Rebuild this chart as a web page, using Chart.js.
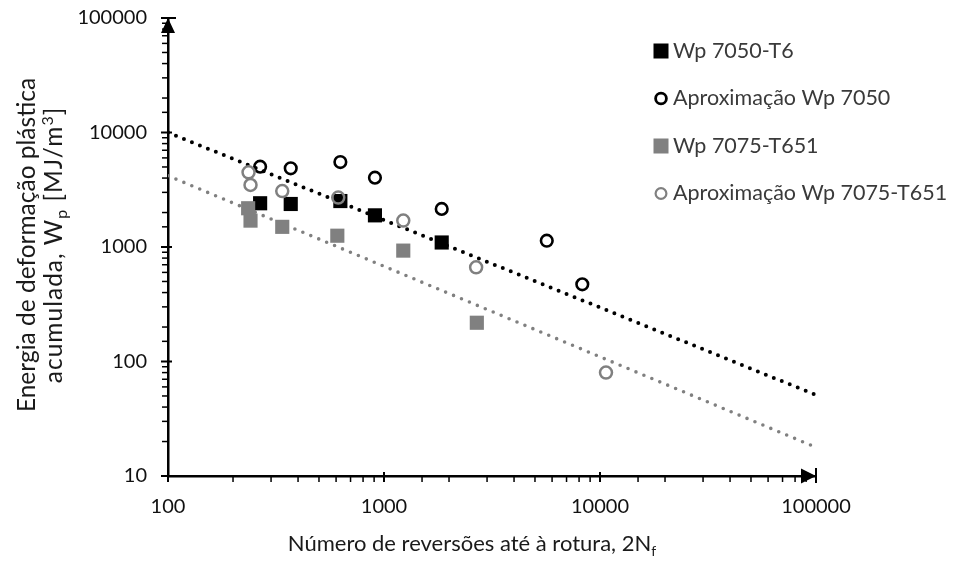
<!DOCTYPE html>
<html lang="pt">
<head>
<meta charset="UTF-8">
<title>Energia de deformação plástica acumulada</title>
<script src="https://cdn.jsdelivr.net/npm/chart.js@4.4.0/dist/chart.umd.min.js"></script>
<style>
    html, body { margin: 0; padding: 0; background: #ffffff; }
    #wrap { width: 955px; height: 562px; }
</style>
</head>
<body>
<div id="wrap"><canvas id="myChart" width="955" height="562"></canvas></div>
<script>
    // 2Nf (reversals to failure) and Wp [MJ/m3]
    var nf7050 = [267, 370, 628, 908, 1850];
    var wp7050 = [2410, 2375, 2520, 1890, 1095];
    var nfAprox7050 = [267, 370, 628, 908, 1850, 5670, 8280];
    var wpAprox7050 = [5030, 4870, 5520, 4030, 2150, 1135, 472];
    var nf7075 = [235, 241, 338, 608, 1228, 2690];
    var wp7075 = [2180, 1700, 1500, 1255, 930, 218];
    var nfAprox7075 = [236, 241, 338, 614, 1228, 2670, 10660];
    var wpAprox7075 = [4490, 3480, 3080, 2700, 1700, 665, 80];

    // power trend lines, values at 2Nf = 100 and 100000
    var trendNf = [100, 100000];
    var trend7050 = [10000, 51];
    var trend7075 = [4190, 17.8];

    var xTickLabels = ['100', '1000', '10000', '100000'];
    var yTickLabels = ['10', '100', '1000', '10000', '100000'];

    var black = '#000000';
    var grey = '#808080';
    var fontFamily = 'Lato';

    function pts(xs, ys) {
        return xs.map(function (x, i) { return { x: x, y: ys[i] }; });
    }

    function onlyLabels(list) {
        return function (v) {
            var s = String(Math.round(v));
            return list.indexOf(s) >= 0 ? s : '';
        };
    }

    function isMajor(v) {
        var l = Math.log10(v);
        return Math.abs(l - Math.round(l)) < 1e-6;
    }

    // text with sub/superscripts, parts = [[text, 0|'sub'|'sup'], ...]
    function drawRich(ctx, parts, cx, cy, size) {
        var small = Math.round(size * 0.65);
        var w = 0;
        parts.forEach(function (p) {
            ctx.font = (p[1] ? small : size) + 'px ' + fontFamily;
            p.w = ctx.measureText(p[0]).width;
            w += p.w;
        });
        var x = cx - w / 2;
        ctx.textAlign = 'left';
        ctx.textBaseline = 'alphabetic';
        parts.forEach(function (p) {
            ctx.font = (p[1] ? small : size) + 'px ' + fontFamily;
            var dy = p[1] === 'sub' ? size * 0.22 : (p[1] === 'sup' ? -size * 0.38 : 0);
            ctx.fillText(p[0], x, cy + dy);
            x += p.w;
        });
    }

    var decorations = {
        id: 'decorations',
        afterDraw: function (chart) {
            var ctx = chart.ctx;
            var xs = chart.scales.x, ys = chart.scales.y;
            var x0 = chart.chartArea.left, y0 = chart.chartArea.bottom;
            ctx.save();
            ctx.strokeStyle = black;
            ctx.fillStyle = black;

            // tick marks
            xs.ticks.forEach(function (t) {
                var px = xs.getPixelForValue(t.value);
                var major = isMajor(t.value);
                var up = major ? (t.value === xs.max ? 8 : 4) : 0;
                var down = t.value === xs.max ? 7 : 6;
                ctx.lineWidth = major ? 2 : 1.5;
                ctx.beginPath();
                ctx.moveTo(px, y0 - up);
                ctx.lineTo(px, y0 + down);
                ctx.stroke();
            });
            ys.ticks.forEach(function (t) {
                var py = ys.getPixelForValue(t.value);
                var major = isMajor(t.value);
                var right = major ? (t.value === ys.max ? 8 : 4) : 0;
                var left = major ? 7 : 6;
                ctx.lineWidth = major ? 2 : 1.5;
                ctx.beginPath();
                ctx.moveTo(x0 - left, py);
                ctx.lineTo(x0 + right, py);
                ctx.stroke();
            });

            // arrow heads
            var top = ys.getPixelForValue(ys.max);
            ctx.beginPath();
            ctx.moveTo(x0, top);
            ctx.lineTo(x0 - 7, top + 15);
            ctx.lineTo(x0 + 7, top + 15);
            ctx.closePath();
            ctx.fill();
            var end = xs.getPixelForValue(xs.max);
            ctx.beginPath();
            ctx.moveTo(end, y0);
            ctx.lineTo(end - 15, y0 - 7.5);
            ctx.lineTo(end - 15, y0 + 7.5);
            ctx.closePath();
            ctx.fill();

            // axis titles
            ctx.fillStyle = '#1a1a1a';
            drawRich(ctx, [['Número de reversões até à rotura, 2N', 0], ['f', 'sub']], 472, 551, 22);
            ctx.save();
            ctx.translate(0, 245);
            ctx.rotate(-Math.PI / 2);
            drawRich(ctx, [['Energia de deformação plástica', 0]], 0, 35, 24.5);
            ctx.letterSpacing = '1px';
            drawRich(ctx, [['acumulada, W', 0], ['p', 'sub'], [' [MJ/m', 0], ['3', 'sup'], [']', 0]], 0, 62, 24.5);
            ctx.letterSpacing = '0px';
            ctx.restore();

            // legend
            var lx = 661, ly = 51, step = 47.5;
            chart.data.datasets.slice(0, 4).forEach(function (ds, i) {
                var y = ly + i * step;
                if (ds.pointStyle === 'rect') {
                    ctx.fillStyle = ds.backgroundColor;
                    ctx.fillRect(lx - 7.5, y - 7.5, 15, 15);
                } else {
                    ctx.strokeStyle = ds.borderColor;
                    ctx.lineWidth = i === 1 ? 2.8 : 2.2;
                    ctx.beginPath();
                    ctx.arc(lx, y, 5.4, 0, Math.PI * 2);
                    ctx.stroke();
                }
                ctx.fillStyle = '#3a3a3a';
                ctx.font = '21.5px ' + fontFamily;
                ctx.textAlign = 'left';
                ctx.textBaseline = 'middle';
                ctx.fillText(ds.label, lx + 12, y);
            });
            ctx.restore();
        }
    };

    var ctx = document.getElementById('myChart').getContext('2d');
    var myChart = new Chart(ctx, {
        type: 'scatter',
        data: {
            datasets: [
                {
                    label: 'Wp 7050-T6',
                    data: pts(nf7050, wp7050),
                    pointStyle: 'rect',
                    pointRadius: 10,
                    backgroundColor: black,
                    borderColor: black,
                    borderWidth: 0,
                    order: 3
                },
                {
                    label: 'Aproximação Wp 7050',
                    data: pts(nfAprox7050, wpAprox7050),
                    pointStyle: 'circle',
                    pointRadius: 5.8,
                    backgroundColor: 'rgba(0,0,0,0)',
                    borderColor: black,
                    borderWidth: 2.6,
                    order: 2
                },
                {
                    label: 'Wp 7075-T651',
                    data: pts(nf7075, wp7075),
                    pointStyle: 'rect',
                    pointRadius: 10,
                    backgroundColor: grey,
                    borderColor: grey,
                    borderWidth: 0,
                    order: 1
                },
                {
                    label: 'Aproximação Wp 7075-T651',
                    data: pts(nfAprox7075, wpAprox7075),
                    pointStyle: 'circle',
                    pointRadius: 6,
                    backgroundColor: 'rgba(0,0,0,0)',
                    borderColor: grey,
                    borderWidth: 2.5,
                    order: 0
                },
                {
                    label: 'trend 7050',
                    data: pts(trendNf, trend7050),
                    showLine: true,
                    pointRadius: 0,
                    borderColor: black,
                    borderWidth: 4,
                    borderDash: [0, 8.6],
                    borderCapStyle: 'round',
                    order: 5
                },
                {
                    label: 'trend 7075',
                    data: pts(trendNf, trend7075),
                    showLine: true,
                    pointRadius: 0,
                    borderColor: grey,
                    borderWidth: 3.6,
                    borderDash: [0, 8.6],
                    borderCapStyle: 'round',
                    order: 5
                }
            ]
        },
        options: {
            responsive: false,
            devicePixelRatio: 1,
            animation: false,
            events: [],
            layout: { padding: { top: 18, right: 139, left: 0, bottom: 0 } },
            plugins: {
                legend: { display: false },
                tooltip: { enabled: false }
            },
            scales: {
                x: {
                    type: 'logarithmic',
                    position: 'bottom',
                    min: 100,
                    max: 100000,
                    afterFit: function (s) {
                        s.height = 86;
                        s.paddingLeft = 0;
                        s.paddingRight = 0;
                    },
                    grid: { display: false, drawTicks: false },
                    border: { display: true, color: black, width: 2.5 },
                    ticks: {
                        autoSkip: false,
                        maxRotation: 0,
                        padding: 19,
                        color: '#111111',
                        font: { family: fontFamily, size: 20 },
                        callback: onlyLabels(xTickLabels)
                    }
                },
                y: {
                    type: 'logarithmic',
                    position: 'left',
                    min: 10,
                    max: 100000,
                    afterFit: function (s) {
                        s.width = 168;
                        s.paddingTop = 0;
                        s.paddingBottom = 0;
                    },
                    grid: { display: false, drawTicks: false },
                    border: { display: true, color: black, width: 2.5 },
                    ticks: {
                        autoSkip: false,
                        padding: 21,
                        color: '#111111',
                        font: { family: fontFamily, size: 20 },
                        callback: onlyLabels(yTickLabels)
                    }
                }
            }
        },
        plugins: [decorations]
    });
</script>
</body>
</html>
